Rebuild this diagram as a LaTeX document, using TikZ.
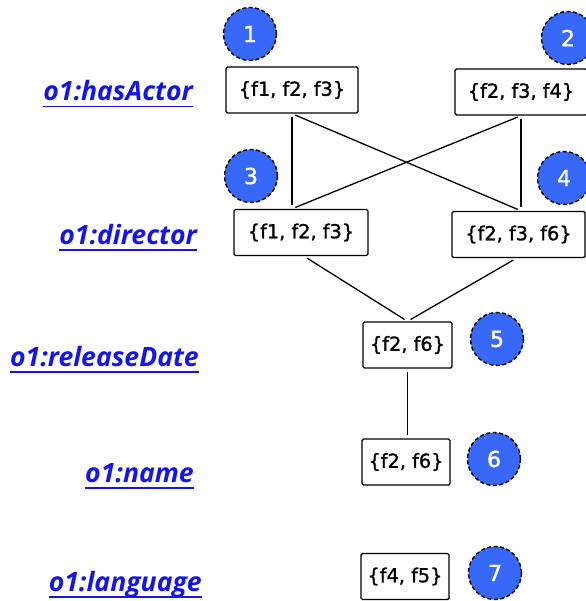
\documentclass[tikz,border=0pt]{standalone}
\usepackage{fontspec}
\setmainfont{DejaVu Sans}
\newfontfamily\labfont{Open Sans}
\newfontfamily\boxfont{DejaVu Sans}[FakeBold=1.2]
\newfontfamily\numfont{DejaVu Sans}[FakeBold=1.5]
\definecolor{circblue}{RGB}{56,104,248}
\definecolor{labblue}{RGB}{20,20,235}
\newcommand{\ulabel}[1]{\setbox0\hbox{#1}\rlap{\color{labblue}\rule[-6.5pt]{\wd0}{1.8pt}}\box0}
\tikzset{
  setbox/.style={draw, line width=1.4pt, rounded corners=1.5pt, minimum height=46pt, inner sep=0pt, fill=white, font=\boxfont\fontsize{19.3}{21}\selectfont},
  numcirc/.style={circle, fill=circblue, draw=black, dash pattern=on 4pt off 2.5pt, line width=1.4pt, minimum size=53pt, inner sep=0pt, text=white, font=\numfont\fontsize{22}{24}\selectfont},
  proplab/.style={anchor=base east, text=labblue, inner sep=0pt, font=\labfont\bfseries\itshape\fontsize{26.6}{28}\selectfont},
  link/.style={line width=1.3pt, shorten >=3.5pt, shorten <=3.5pt}
}
\begin{document}
\begin{tikzpicture}[x=1pt,y=-1pt]
\useasboundingbox (0,0) rectangle (585,601);
% labels
\node[proplab] (l1) at (193,101) {\ulabel{o1:hasActor}};
\node[proplab] (l2) at (197,244) {\ulabel{o1:director}};
\node[proplab] (l3) at (199,366.5) {\ulabel{o1:releaseDate}};
\node[proplab] (l4) at (194,482) {\ulabel{o1:name}};
\node[proplab] (l5) at (202,591.5) {\ulabel{o1:language}};
% boxes
\node[setbox, minimum width=132pt] (a1) at (292,90) {\{f1, f2, f3\}};
\node[setbox, minimum width=132pt] (a2) at (521,92) {\{f2, f3, f4\}};
\node[setbox, minimum width=134pt] (b1) at (301,232.5) {\{f1, f2, f3\}};
\node[setbox, minimum width=133pt] (b2) at (518.5,234.5) {\{f2, f3, f6\}};
\node[setbox, minimum width=89pt] (c) at (407.5,345) {\{f2, f6\}};
\node[setbox, minimum width=88pt] (d) at (406,462) {\{f2, f6\}};
\node[setbox, minimum width=88pt] (e) at (405,576.5) {\{f4, f5\}};
% circles
\node[numcirc] (n1) at (250,34) {1};
\node[numcirc] (n2) at (568,38) {2};
\node[numcirc] (n3) at (251,176) {3};
\node[numcirc] (n4) at (564,178) {4};
\node[numcirc] (n5) at (497,339) {5};
\node[numcirc] (n6) at (494,459) {6};
\node[numcirc] (n7) at (495,573) {7};
% connectors
\draw[link] (a1.south) -- (a1.south |- b1.north);
\draw[link] (a1.south) -- (a2.south |- b2.north);
\draw[link] (a2.south) -- (a1.south |- b1.north);
\draw[link] (a2.south) -- (a2.south |- b2.north);
\draw[link] ([xshift=3pt]b1.south) -- (c.north);
\draw[link] ([xshift=-2pt]b2.south) -- (c.north);
\draw[link] (c.south) -- (c.south |- d.north);
\end{tikzpicture}
\end{document}
